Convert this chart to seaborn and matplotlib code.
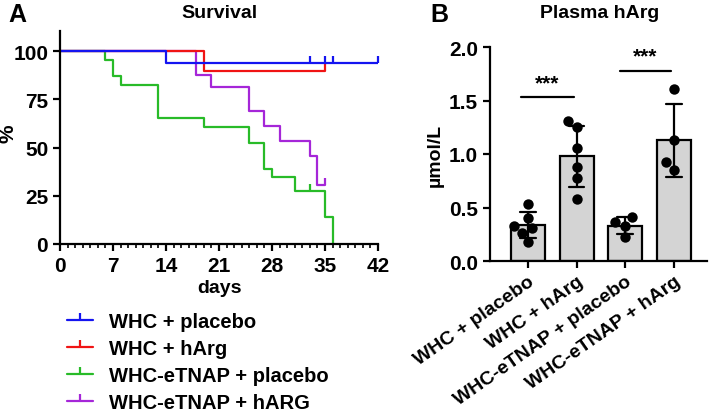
import numpy as np
import pandas as pd
import matplotlib
matplotlib.use("Agg")
import matplotlib.pyplot as plt
import seaborn as sns
from matplotlib.lines import Line2D
from matplotlib.ticker import MultipleLocator

# --- Panel A: Kaplan-Meier survival (step times in days, survival in %) ---
blue_days = [0, 14, 42]
blue_surv = [100, 93.75, 93.75]
blue_cens = [33, 35, 36, 42]

red_days = [0, 19, 35]
red_surv = [100, 90, 90]
red_cens = [35]

green_days = [0, 6, 7, 8, 13, 19, 25, 27, 28, 31, 35, 36]
green_surv = [100, 95.7, 87.0, 82.6, 65.2, 60.9, 52.2, 39.1, 34.8, 27.5, 13.8, 0]
green_cens = [33]

purple_days = [0, 18, 20, 25, 27, 29, 33, 34, 35]
purple_surv = [100, 87.5, 81.3, 68.8, 61.1, 53.3, 45.8, 30.5, 30.5]
purple_cens = [35]

survival_labels = ["WHC + placebo", "WHC + hArg", "WHC-eTNAP + placebo", "WHC-eTNAP + hARG"]
survival_colors = ["#1414f0", "#f01414", "#28bb28", "#a526d8"]

# --- Panel B: plasma hArg individual values (umol/L) ---
groups = ["WHC + placebo", "WHC + hArg", "WHC-eTNAP + placebo", "WHC-eTNAP + hArg"]
whc_placebo = [0.53, 0.40, 0.305, 0.324, 0.262, 0.18]
whc_harg = [1.31, 1.25, 1.06, 0.88, 0.78, 0.58]
etnap_placebo = [0.408, 0.361, 0.33, 0.221]
etnap_harg = [1.607, 1.134, 0.922, 0.853]

sns.set_style("ticks")
plt.rcParams["font.family"] = ["Liberation Sans", "DejaVu Sans"]
plt.rcParams["font.weight"] = "bold"
plt.rcParams["axes.labelweight"] = "bold"
for key in ["text.color", "axes.labelcolor", "xtick.color", "ytick.color", "axes.edgecolor"]:
    plt.rcParams[key] = "black"
plt.rcParams["axes.linewidth"] = 1.6
plt.rcParams["xtick.major.width"] = 1.6
plt.rcParams["ytick.major.width"] = 1.6
plt.rcParams["xtick.minor.width"] = 1.2

fig = plt.figure(figsize=(7.09, 4.14), dpi=100)
W, H = 709, 414


def px_axes(left, top, right, bottom):
    return fig.add_axes([left / W, 1 - bottom / H, (right - left) / W, (bottom - top) / H])


# ---------------- Panel A ----------------
ax1 = px_axes(60, 32, 378, 245)
curves = [
    (green_days, green_surv, green_cens, survival_colors[2]),
    (purple_days, purple_surv, purple_cens, survival_colors[3]),
    (red_days, red_surv, red_cens, survival_colors[1]),
    (blue_days, blue_surv, blue_cens, survival_colors[0]),
]
for days, surv, cens, col in curves:
    sns.lineplot(x=days, y=surv, ax=ax1, color=col, lw=1.6, drawstyle="steps-post",
                 estimator=None, sort=False)
    # censored marks: small upward ticks on the curve
    cens_y = [surv[np.searchsorted(days, c, side="right") - 1] for c in cens]
    ax1.plot(cens, cens_y, ls="none", marker=2, ms=5, mew=1.6, color=col, clip_on=False)

ax1.set_xlim(0, 42)
ax1.set_ylim(0, 110.5)
ax1.set_xticks(range(0, 43, 7))
ax1.xaxis.set_minor_locator(MultipleLocator(1))
ax1.set_yticks([0, 25, 50, 75, 100])
ax1.tick_params(axis="both", labelsize=15, length=5)
ax1.tick_params(axis="x", which="minor", length=3)
ax1.set_xlabel("days", fontsize=14, labelpad=3)
ax1.set_ylabel("%", fontsize=15)
ax1.yaxis.set_label_coords(-42 / 318, 0.52)
for lab in ax1.get_xticklabels() + ax1.get_yticklabels():
    lab.set_fontweight("bold")
sns.despine(ax=ax1)

handles = [Line2D([], [], color=c, lw=1.6, marker=2, ms=5, mew=1.6) for c in survival_colors]
fig.legend(handles, survival_labels, loc="upper left", bbox_to_anchor=(67 / W, 1 - 313 / H),
           frameon=False, fontsize=14.5, handlelength=1.3, handletextpad=0.8,
           labelspacing=0.4, borderpad=0, borderaxespad=0, numpoints=1)

fig.text(219 / W, 1 - 14 / H, "Survival", ha="center", va="center", fontsize=14, fontweight="bold")
fig.text(17 / W, 1 - 15 / H, "A", ha="center", va="center", fontsize=18, fontweight="bold")

# ---------------- Panel B ----------------
ax2 = px_axes(490, 48, 707, 262)
df = pd.DataFrame({
    "group": [groups[0]] * len(whc_placebo) + [groups[1]] * len(whc_harg)
             + [groups[2]] * len(etnap_placebo) + [groups[3]] * len(etnap_harg),
    "value": whc_placebo + whc_harg + etnap_placebo + etnap_harg,
})
sns.barplot(data=df, x="group", y="value", order=groups, errorbar="sd", width=0.7,
            capsize=0.32, color="#d4d4d4", edgecolor="black", linewidth=1.6,
            err_kws={"color": "black", "linewidth": 1.6}, ax=ax2)
sns.swarmplot(data=df, x="group", y="value", order=groups, color="black", size=7.5, ax=ax2)

ax2.set_xlim(-0.78, 3.68)
ax2.set_ylim(0, 2.0)
ax2.set_yticks([0, 0.5, 1.0, 1.5, 2.0])
ax2.set_yticklabels(["0.0", "0.5", "1.0", "1.5", "2.0"])
ax2.tick_params(axis="both", labelsize=15, length=5)
ax2.set_xticks(range(len(groups)))
ax2.set_xticklabels(groups, rotation=35, ha="right", rotation_mode="anchor", fontsize=14)
ax2.set_xlabel("")
ax2.set_ylabel("µmol/L", fontsize=14, labelpad=4)
for lab in ax2.get_xticklabels() + ax2.get_yticklabels():
    lab.set_fontweight("bold")
sns.despine(ax=ax2)

# significance bars
for x0, x1, y in [(-0.14, 0.94, 1.53), (1.89, 2.94, 1.78)]:
    ax2.plot([x0, x1], [y, y], color="black", lw=1.6)
    ax2.text((x0 + x1) / 2, y + 0.05, "***", ha="center", va="bottom", fontsize=15,
             fontweight="bold")

fig.text(600 / W, 1 - 14 / H, "Plasma hArg", ha="center", va="center", fontsize=14,
         fontweight="bold")
fig.text(439 / W, 1 - 15 / H, "B", ha="center", va="center", fontsize=18, fontweight="bold")

fig.savefig("out.png", dpi=100)
